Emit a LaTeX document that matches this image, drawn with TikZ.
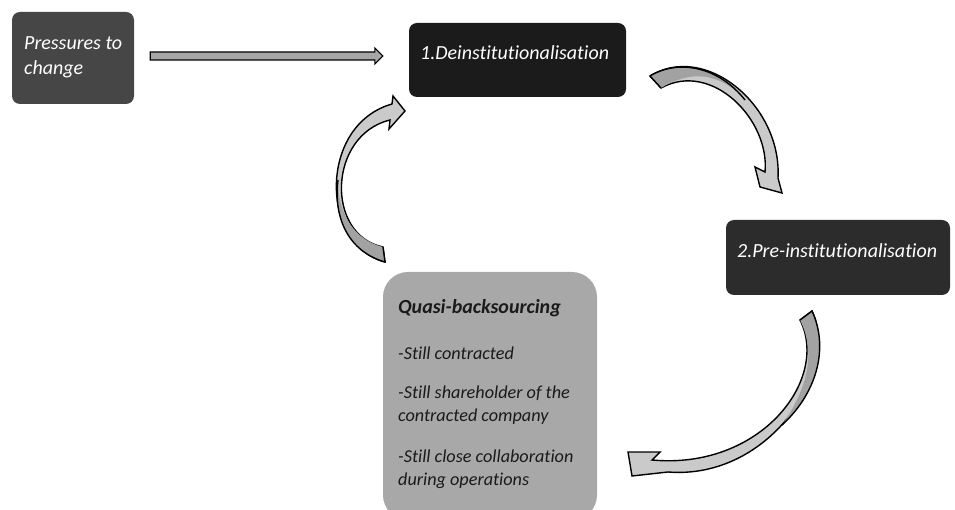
\documentclass[tikz,border=0pt]{standalone}
\usepackage{fontspec}
\setmainfont{Carlito}[Ligatures={TeX,NoCommon}]
\definecolor{cpress}{HTML}{464646}
\definecolor{cdein}{HTML}{1B1B1B}
\definecolor{cpre}{HTML}{2C2C2C}
\definecolor{cquasi}{HTML}{A8A8A8}
\definecolor{carrow}{HTML}{CACACA}
\definecolor{cback}{HTML}{A2A2A2}
\definecolor{cshaft}{HTML}{A6A6A6}
\definecolor{ctext}{HTML}{1A1A1A}
\tikzset{
  boxnode/.style={draw=none, inner sep=0pt, rounded corners=8pt},
  wtext/.style={text=white, font=\fontsize{20}{24}\selectfont\itshape, inner sep=0pt, anchor=base west},
  btext/.style={text=ctext, font=\fontsize{18.2}{22}\selectfont\itshape, inner sep=0pt, anchor=base west},
  curvearrow/.style={draw=black, line width=1.4pt, fill=carrow, line join=miter},
}
\begin{document}
\begin{tikzpicture}[x=1pt,y=-1pt]
\useasboundingbox (0,0) rectangle (955,510);
\begin{scope}
\clip (0,0) rectangle (955,510);
% boxes
\node[boxnode, fill=cpress, minimum width=122pt, minimum height=92pt] (press) at (73,58) {};
\node[boxnode, fill=cdein, minimum width=217pt, minimum height=74pt] (dein) at (517.5,60) {};
\node[boxnode, fill=cpre, minimum width=224pt, minimum height=75pt] (pre) at (838,257.5) {};
\node[boxnode, fill=cquasi, rounded corners=25pt, minimum width=214pt, minimum height=248pt] (quasi) at (490,396) {};
\end{scope}
% texts
\node[wtext] (t1) at (24,50) {Pressures to};
\node[wtext] (t2) at (24,75) {change};
\node[wtext] (t3) at (420,60) {1.Deinstitutionalisation};
\node[wtext] (t4) at (737,258) {2.Pre-institutionalisation};
\node[btext, font=\fontsize{20}{24}\selectfont\bfseries\itshape] (q0) at (398,313) {Quasi-backsourcing};
\node[btext] (q1) at (398,359) {-Still contracted};
\node[btext] (q2) at (398,398) {-Still shareholder of the};
\node[btext] (q3) at (398,421) {contracted company};
\node[btext] (q4) at (398,462) {-Still close collaboration};
\node[btext] (q5) at (398,485) {during operations};
% straight arrow
\coordinate (sa0) at ([xshift=16pt,yshift=2pt]press.east);
\coordinate (sa1) at ([xshift=-26pt,yshift=4pt]dein.west);
\draw[draw=black, line width=1.1pt, fill=cshaft, line join=miter]
  ([yshift=4pt]sa0) -- ([xshift=-8pt,yshift=4pt]sa1) -- ([xshift=-8pt,yshift=8pt]sa1)
  -- (sa1) -- ([xshift=-8pt,yshift=-8pt]sa1) -- ([xshift=-8pt,yshift=-4pt]sa1)
  -- ([yshift=-4pt]sa0) -- cycle;
% curved arrow 1 (top right)
\draw[curvearrow] (650,76) .. controls (705,42) and (782,105) .. (778,178)
  -- (782,193) -- (760,187) -- (755,167) -- (765,172)
  .. controls (770,120) and (712,60) .. (661,88) -- cycle;
\fill[cback] (650,76) .. controls (680,58) and (720,68) .. (745,100)
  .. controls (720,72) and (690,70) .. (661,88) -- cycle;
\draw[line width=1.4pt] (650,76) .. controls (680,58) and (720,68) .. (745,100);
\draw[line width=1.4pt, line join=miter] (650,76) -- (661,88);
% curved arrow 2 (bottom right)
\draw[curvearrow] (812,311) .. controls (840,370) and (770,480) .. (668,472)
  -- (632,476) -- (628,452) -- (660,452) -- (652,460)
  .. controls (760,470) and (830,380) .. (800,320) -- cycle;
\fill[cback] (812,311) .. controls (830,350) and (815,395) .. (782,425)
  .. controls (810,385) and (815,350) .. (800,320) -- cycle;
\draw[line width=1.4pt, line join=miter] (782,425) .. controls (815,395) and (830,350) .. (812,311) -- (800,320);
% curved arrow 3 (left)
\draw[curvearrow] (385,262) .. controls (320,245) and (318,125) .. (392,104)
  -- (393,96) -- (405,111) -- (389,129) -- (390,120)
  .. controls (328,135) and (325,235) .. (383,247) -- cycle;
\fill[cback] (385,262) .. controls (350,252) and (333,220) .. (338,180)
  .. controls (338,215) and (355,240) .. (383,247) -- cycle;
\draw[line width=1.4pt, line join=miter] (338,180) .. controls (333,220) and (350,252) .. (385,262) -- (383,247);
\end{tikzpicture}
\end{document}
